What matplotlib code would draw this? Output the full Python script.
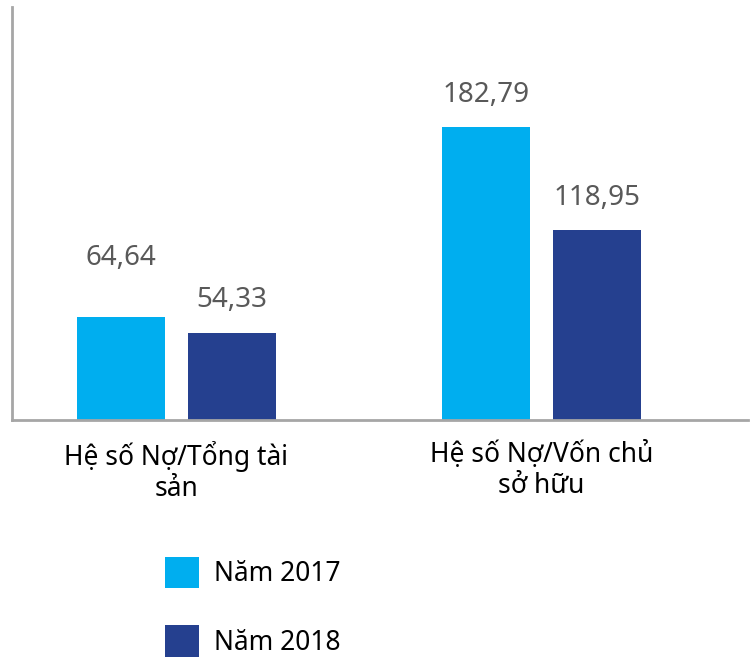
import matplotlib
matplotlib.use("Agg")
import matplotlib.pyplot as plt
import numpy as np

# data
categories = ["Hệ số Nợ/Tổng tài\nsản", "Hệ số Nợ/Vốn chủ\nsở hữu"]
series_names = ["Năm 2017", "Năm 2018"]
values_2017 = [64.64, 182.79]
values_2018 = [54.33, 118.95]
colors = ["#00aeef", "#25408f"]

plt.rcParams['font.family'] = ['Noto Sans', 'DejaVu Sans']

fig = plt.figure(figsize=(7.55, 6.59), dpi=100)
ax = fig.add_axes([12 / 755, 239 / 659, 736 / 755, 413 / 659])

x = np.arange(len(categories))
offset = 0.152
width = 0.241

bars1 = ax.bar(x - offset, values_2017, width, color=colors[0], label=series_names[0])
bars2 = ax.bar(x + offset, values_2018, width, color=colors[1], label=series_names[1])

def fmt(v):
    return f"{v:.2f}".replace(".", ",")

# label gaps above bars (points); the first one sits higher in the original
gaps = [[32, 13], [14, 13]]
for bars, g in zip((bars1, bars2), gaps):
    for b, gap in zip(bars, g):
        ax.annotate(fmt(b.get_height()), (b.get_x() + b.get_width() / 2, b.get_height()),
                    xytext=(0, gap), textcoords="offset points", ha="center", va="bottom",
                    fontsize=20, color="#595959")

ax.set_xlim(-0.449, 1.565)
ax.set_ylim(0, 258)
ax.set_yticks([])
ax.set_xticks(x)
ax.set_xticklabels(categories, fontsize=19, color="black", linespacing=1.15)
ax.tick_params(axis="x", length=0, pad=15)

for s in ("top", "right"):
    ax.spines[s].set_visible(False)
for s in ("left", "bottom"):
    ax.spines[s].set_color("#a6a6a6")
    ax.spines[s].set_linewidth(2)

fig.legend(loc="upper left", bbox_to_anchor=(165 / 755, 1 - 557 / 659), frameon=False,
           fontsize=19, handlelength=1.3, handleheight=1.45, labelspacing=1.4,
           handletextpad=0.55, borderpad=0, borderaxespad=0)

fig.savefig("out.png", dpi=100)
